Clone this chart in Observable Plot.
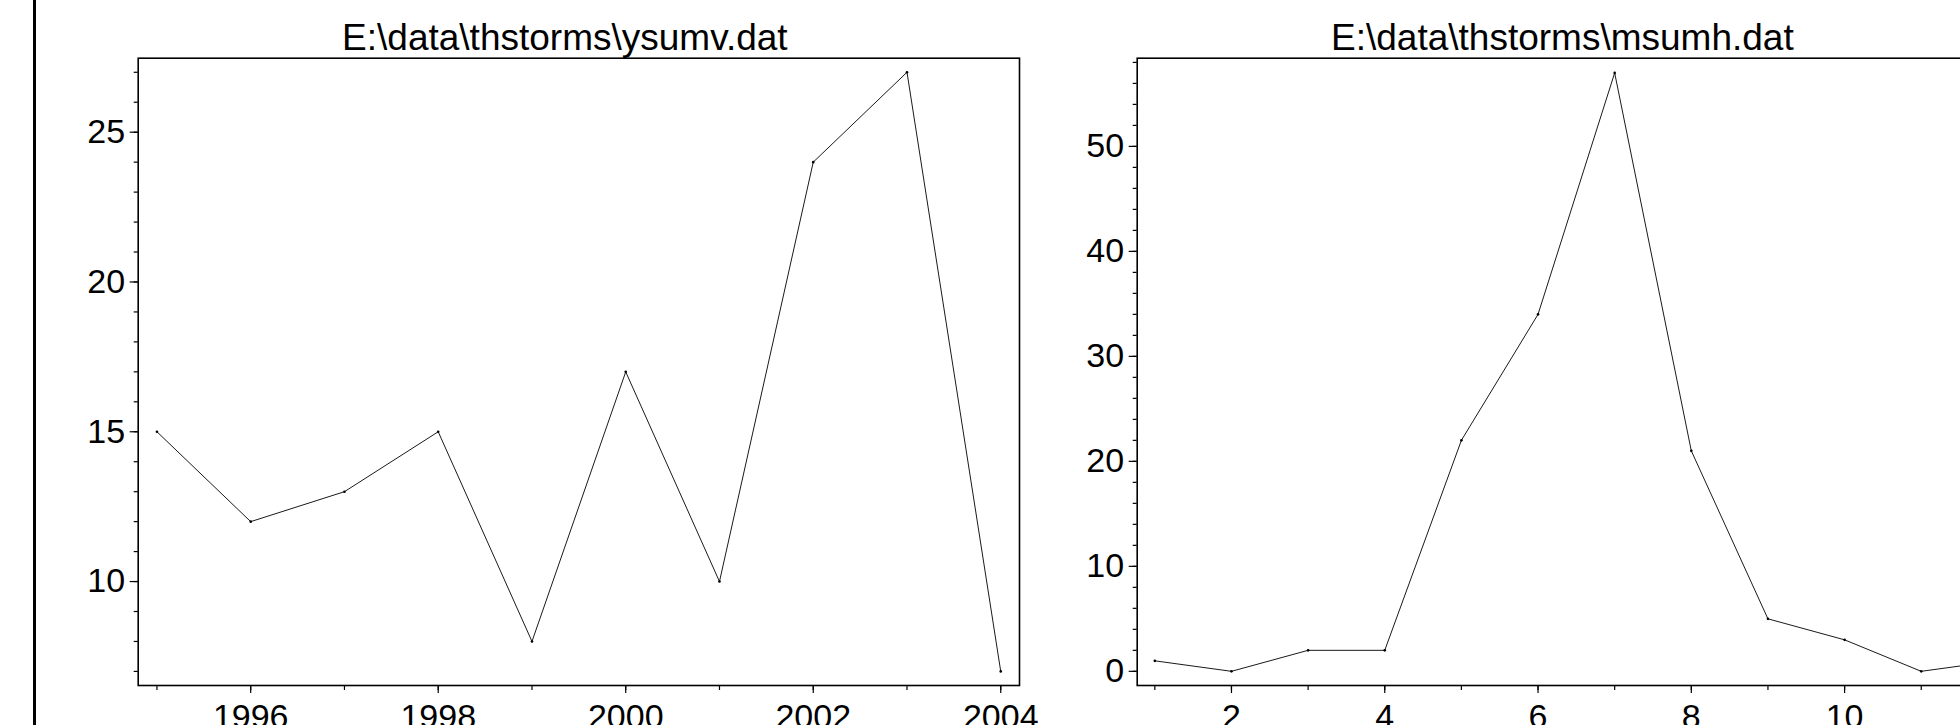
<!DOCTYPE html>
<html>
<head>
<meta charset="utf-8">
<script src="https://cdn.jsdelivr.net/npm/d3@7"></script>
<script src="https://cdn.jsdelivr.net/npm/@observablehq/plot@0.6"></script>
<style>
  html, body { margin: 0; padding: 0; background: #fff; }
  body { width: 1960px; height: 725px; overflow: hidden; position: relative; font-family: "Liberation Sans", Arial, sans-serif; }
  #bar { position: absolute; left: 33px; top: 0; width: 3px; height: 725px; background: #000; z-index: 5; }
  #left { position: absolute; left: 0; top: 0; width: 1060px; height: 725px; }
  #right { position: absolute; left: 1000px; top: 0; width: 1100px; height: 725px; }
  svg { max-width: none !important; }
</style>
</head>
<body>
<div id="left"></div>
<div id="right"></div>
<div id="bar"></div>
<script>
// ---- data ----
const titleLeft = "E:\\data\\thstorms\\ysumv.dat";
const titleRight = "E:\\data\\thstorms\\msumh.dat";

const years = [1995, 1996, 1997, 1998, 1999, 2000, 2001, 2002, 2003, 2004];
const ysumv = [15, 12, 13, 15, 8, 17, 10, 24, 27, 7];

const months = [1, 2, 3, 4, 5, 6, 7, 8, 9, 10, 11, 12];
const msumh = [1, 0, 2, 2, 22, 34, 57, 21, 5, 3, 0, 1];

const leftXMajor = [1996, 1998, 2000, 2002, 2004];
const leftXMinor = [1995, 1996, 1997, 1998, 1999, 2000, 2001, 2002, 2003, 2004];
const leftYMajor = [10, 15, 20, 25];
const leftYMinor = [7, 8, 9, 10, 11, 12, 13, 14, 15, 16, 17, 18, 19, 20, 21, 22, 23, 24, 25, 26, 27];

const rightXMajor = [2, 4, 6, 8, 10, 12];
const rightXMinor = [1, 2, 3, 4, 5, 6, 7, 8, 9, 10, 11, 12];
const rightYMajor = [0, 10, 20, 30, 40, 50];
const rightYMinor = [0, 2, 4, 6, 8, 10, 12, 14, 16, 18, 20, 22, 24, 26, 28, 30, 32, 34, 36, 38, 40, 42, 44, 46, 48, 50, 52, 54, 56, 58];

const leftData = years.map((x, i) => ({x, y: ysumv[i]}));
const rightData = months.map((x, i) => ({x, y: msumh[i]}));

function panel({data, title, width, marginLeft, marginRight, xDomain, yDomain, xMajor, xMinor, yMajor, yMinor}) {
  return Plot.plot({
    width, height: 725,
    marginLeft, marginRight, marginTop: 57.7, marginBottom: 40,
    style: {background: "transparent", color: "#000", fontFamily: "'Liberation Sans', Arial, sans-serif", fontSize: "34px", overflow: "visible"},
    x: {domain: xDomain, label: null},
    y: {domain: yDomain, label: null},
    marks: [
      Plot.axisY({ticks: yMinor, tickSize: 4, tickFormat: () => "", label: null, strokeWidth: 1.2}),
      Plot.axisY({ticks: yMajor, tickSize: 8, tickPadding: 5, tickFormat: d => String(d), label: null, strokeWidth: 1.2, fontSize: 34}),
      Plot.axisX({ticks: xMinor, tickSize: 5, tickFormat: () => "", label: null, strokeWidth: 1.2}),
      Plot.axisX({ticks: xMajor, tickSize: 8, tickPadding: 10, tickFormat: d => String(d), label: null, strokeWidth: 1.2, fontSize: 34}),
      Plot.frame({stroke: "#000", strokeWidth: 1.6}),
      Plot.line(data, {x: "x", y: "y", stroke: "#1a1a1a", strokeWidth: 1}),
      Plot.dot(data, {x: "x", y: "y", r: 1.3, fill: "#000", stroke: null}),
      Plot.text([title], {frameAnchor: "top", dy: -8, dx: -14, lineAnchor: "bottom", fontSize: 37, fill: "#000"})
    ]
  });
}

document.getElementById("left").appendChild(panel({
  data: leftData, title: titleLeft, width: 1060, marginLeft: 137.7, marginRight: 41,
  xDomain: [1994.8, 2004.2], yDomain: [6.53, 27.47],
  xMajor: leftXMajor, xMinor: leftXMinor, yMajor: leftYMajor, yMinor: leftYMinor
}));

document.getElementById("right").appendChild(panel({
  data: rightData, title: titleRight, width: 1100, marginLeft: 136.7, marginRight: 85,
  xDomain: [0.77, 12.23], yDomain: [-1.35, 58.4],
  xMajor: rightXMajor, xMinor: rightXMinor, yMajor: rightYMajor, yMinor: rightYMinor
}));
</script>
</body>
</html>
